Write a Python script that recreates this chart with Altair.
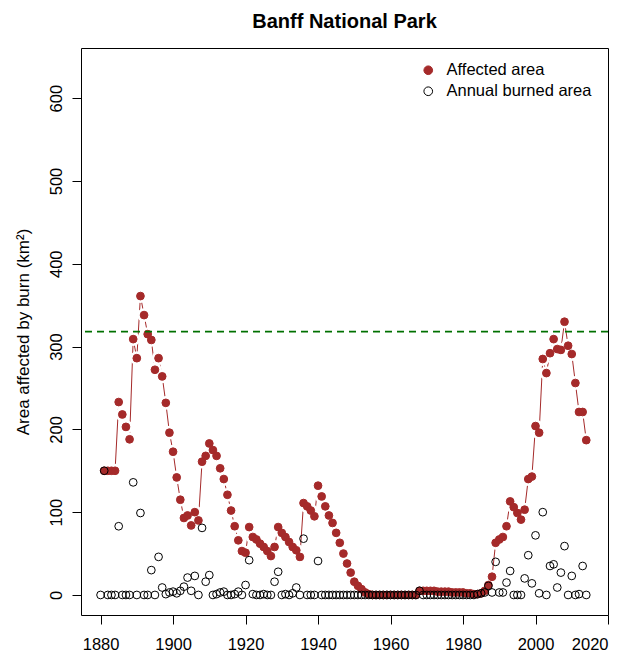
import altair as alt
import pandas as pd

BROWN = "#A52A2A"
GREEN = "#007000"
FONT = "Liberation Sans"

# Area affected by burn (km^2), 1881-2014
affected_years = list(range(1881, 2015))
affected_area = [
    150, 150, 150, 150, 233, 218, 203, 188, 309, 286,          # 1881-1890
    361, 338, 315, 308, 272, 286, 264, 232, 196, 173,          # 1891-1900
    142, 115, 93, 96, 84, 100, 90, 161, 168, 183,              # 1901-1910
    175, 168, 153, 140, 121, 102, 83, 66, 53, 51,              # 1911-1920
    82, 70, 67, 62, 58, 53, 47, 58, 82, 75,                    # 1921-1930
    70, 64, 58, 54, 46, 111, 107, 102, 95, 132,                # 1931-1940
    119, 107, 96, 87, 75, 63, 50, 38, 27, 16,                  # 1941-1950
    11, 7, 3, 1, 0, 0, 0, 0, 0, 0,                             # 1951-1960
    0, 0, 0, 0, 0, 0, 0, 5, 5, 5,                              # 1961-1970
    5, 5, 4, 4, 4, 4, 3, 3, 3, 3,                              # 1971-1980
    2, 2, 1, 1, 2, 5, 12, 22, 63, 67,                          # 1981-1990
    70, 83, 113, 106, 99, 91, 103, 140, 143, 204,              # 1991-2000
    196, 285, 268, 292, 309, 297, 296, 330, 301, 291,          # 2001-2010
    256, 221, 221, 187,                                        # 2011-2014
]

# Annual burned area (km^2), 1880-2014
annual_years = list(range(1880, 2015))
annual_area = [
    0,                                                         # 1880
    150, 0, 0, 0, 83, 0, 0, 0, 136, 0,                         # 1881-1890
    99, 0, 0, 30, 0, 46, 9, 1, 3, 4,                           # 1891-1900
    2, 5, 10, 21, 5, 23, 0, 81, 16, 24,                        # 1901-1910
    0, 1, 3, 4, 0, 0, 1, 4, 0, 12,                             # 1911-1920
    42, 1, 0, 0, 1, 0, 0, 16, 28, 0,                           # 1921-1930
    1, 0, 2, 9, 0, 68, 0, 0, 0, 41,                            # 1931-1940
    0, 0, 0, 0, 0, 0, 0, 0, 0, 0,                              # 1941-1950
    0, 0, 0, 0, 0, 0, 0, 0, 0, 0,                              # 1951-1960
    0, 0, 0, 0, 0, 0, 0, 5, 0, 0,                              # 1961-1970
    0, 0, 0, 0, 0, 0, 0, 0, 0, 0,                              # 1971-1980
    0, 0, 0, 1, 2, 3, 11, 3, 40, 3,                            # 1981-1990
    3, 15, 29, 0, 0, 0, 20, 48, 14, 72,                        # 1991-2000
    2, 100, 0, 35, 37, 9, 27, 59, 0, 23,                       # 2001-2010
    0, 1, 35, 0,                                               # 2011-2014
]

threshold = [318]
x_ticks = [1880, 1900, 1920, 1940, 1960, 1980, 2000, 2020]
y_ticks = [0, 100, 200, 300, 400, 500, 600]
series_names = ["Affected area", "Annual burned area"]

aff = pd.DataFrame({"year": affected_years, "area": affected_area, "series": series_names[0]})
ann = pd.DataFrame({"year": annual_years, "area": annual_area, "series": series_names[1]})
pts = pd.concat([aff, ann], ignore_index=True)

x_scale = alt.Scale(domain=[1874.6, 2020.0], nice=False, zero=False)
y_scale = alt.Scale(domain=[-24.2, 660.6], nice=False, zero=False)

x_enc = alt.X(
    "year:Q",
    title=None,
    scale=x_scale,
    axis=alt.Axis(values=x_ticks, format="d", labelPadding=12),
)
y_enc = alt.Y(
    "area:Q",
    title="Area affected by burn (km²)",
    scale=y_scale,
    axis=alt.Axis(
        values=y_ticks,
        labelAngle=270,
        labelAlign="center",
        labelBaseline="alphabetic",
        labelPadding=11,
        titleAngle=270,
        titleX=-53,
        titleY=283.5,
        titleAlign="center",
        titleBaseline="alphabetic",
    ),
)

legend = alt.Legend(
    title=None,
    orient="none",
    legendX=339,
    legendY=14,
    symbolType="circle",
    symbolSize=75,
    symbolStrokeWidth=1,
    labelFontSize=16.5,
    labelFont=FONT,
    labelColor="black",
    labelOffset=10,
    rowPadding=4,
    padding=0,
)

# connecting line of the affected-area series (drawn as in a "both" plot:
# segments stop short of each point)
line = alt.Chart(aff).mark_line(color=BROWN, strokeWidth=1).encode(x=x_enc, y=y_enc)

# white discs that open a small gap in the line around every point
gaps = alt.Chart(aff).mark_point(
    shape="circle", filled=True, opacity=1, size=190
).encode(x=x_enc, y=y_enc, color=alt.value("white"))

points = alt.Chart(pts).mark_point(
    shape="circle", filled=False, opacity=1, size=60, strokeWidth=1
).encode(
    x=x_enc,
    y=y_enc,
    color=alt.Color(
        "series:N",
        scale=alt.Scale(domain=series_names, range=[BROWN, "black"]),
        legend=legend,
    ),
    fill=alt.Fill(
        "series:N",
        scale=alt.Scale(domain=series_names, range=[BROWN, "transparent"]),
        legend=legend,
    ),
)

rule = alt.Chart(pd.DataFrame({"area": threshold})).mark_rule(
    color=GREEN, strokeDash=[7, 5], strokeWidth=1.8
).encode(y=alt.Y("area:Q", scale=y_scale))

chart = (
    alt.layer(line, gaps, points, rule)
    .properties(
        width=527,
        height=567,
        autosize=alt.AutoSizeParams(type="none"),
        padding={"left": 81, "top": 48, "right": 19, "bottom": 40},
        title=alt.Title(
            "Banff National Park",
            fontSize=20,
            fontWeight="bold",
            font=FONT,
            color="black",
            anchor="middle",
            offset=16,
        ),
        background="white",
    )
    .configure_view(stroke="black", strokeWidth=1)
    .configure_axis(
        grid=False,
        domain=False,
        ticks=True,
        tickSize=9,
        tickColor="black",
        tickWidth=1,
        labelFont=FONT,
        labelFontSize=16.5,
        labelColor="black",
        titleFont=FONT,
        titleFontSize=17,
        titleFontWeight="normal",
        titleColor="black",
    )
)

chart.save("out.html", embed_options={"renderer": "svg", "actions": False})
